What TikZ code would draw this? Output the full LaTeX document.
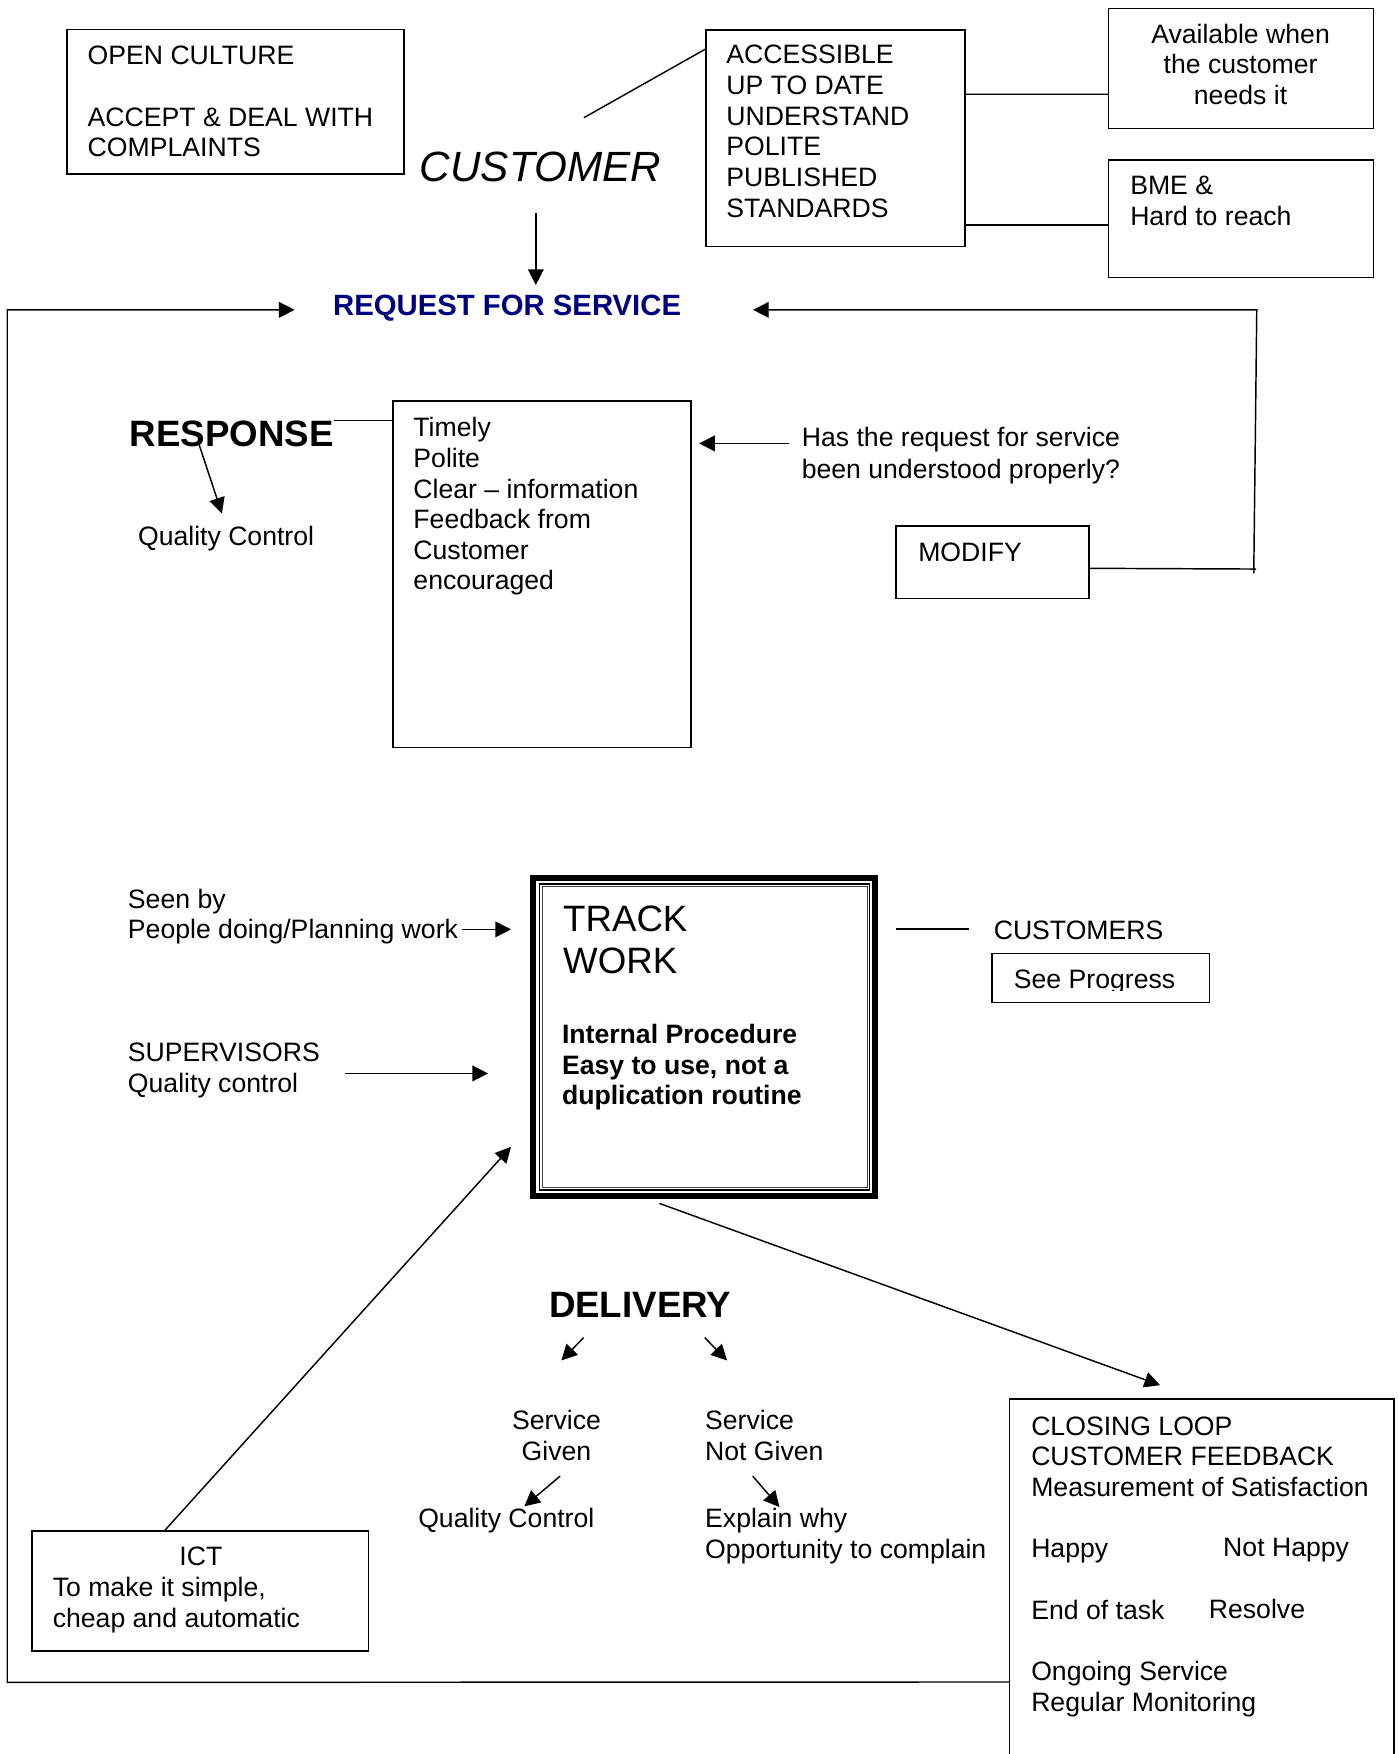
\documentclass[tikz,border=0pt]{standalone}
\usepackage{fontspec}
\setmainfont{Liberation Sans}
\usetikzlibrary{arrows.meta,fit,calc}
\definecolor{reqblue}{RGB}{0,0,128}
\newcommand\ntx{\fontsize{11.9pt}{13.7pt}\selectfont}
\newcommand\ml[1]{\begin{tabular}[t]{@{}l@{}}#1\end{tabular}}
\newcommand\mc[1]{\begin{tabular}[t]{@{}c@{}}#1\end{tabular}}
\begin{document}
\begin{tikzpicture}[x=0.5pt,y=-0.5pt,
  ln/.style={line width=0.65pt},
  arr/.style={line width=0.65pt,-{Triangle[length=7pt,width=7pt]}},
  box/.style={draw,line width=0.65pt,inner sep=0pt,fit={#1}},
  area/.style={inner sep=0pt,fit={#1}},
  txt/.style={inner sep=0pt,anchor=base west,font=\ntx},
  ctxt/.style={inner sep=0pt,anchor=base,font=\ntx}]
\fill[white] (0,0) rectangle (1249,1568);
\useasboundingbox (0,0) rectangle (1249,1568);

% ---------- boxes ----------
\node[box={(60,26.2) (361,155.6)}] (oc) {};
\node[box={(631,26.8) (862.8,220.5)}] (acc) {};
\node[box={(991,7.5) (1227.6,114.7)}] (avail) {};
\node[box={(991,143) (1227.6,248)}] (bme) {};
\node[box={(351.3,358.5) (617.8,668.2)}] (timely) {};
\node[box={(801,470.3) (973.6,535)}] (modify) {};
\node[box={(886.6,852.3) (1081,896.1)}] (seeprog) {};
\node[box={(28.5,1368.5) (329.6,1475.9)}] (ict) {};
\node[area={(903,1251) (1245.7,1580)}] (closebox) {};
\draw[ln] (closebox.south west) -- (closebox.north west) -- (closebox.north east) -- (closebox.south east);

% track work frame
\node[area={(473.8,782.3) (785,1071.5)}] (track) {};
\draw[line width=2.7pt] (476.5,785) rectangle (782.3,1068.8);
\draw[line width=0.6pt] (482.1,790.2) rectangle (777.4,1063.7);
\draw[line width=0.45pt,black!75] (484.7,792.4) rectangle (775.4,1061.7);

% ---------- texts ----------
\node[txt] (octxt) at (78,58) {\ml{OPEN CULTURE\\[13.7pt]ACCEPT \& DEAL WITH\\COMPLAINTS}};
\node[txt,font=\fontsize{18.9pt}{22pt}\selectfont\itshape] (cust) at (375,162.4) {CUSTOMER};
\node[txt] (acctxt) at (649,57.2) {\ml{ACCESSIBLE\\UP TO DATE\\UNDERSTAND\\POLITE\\PUBLISHED\\STANDARDS}};
\node[ctxt] (availtxt) at (1109,38.7) {\mc{Available when\\the customer\\needs it}};
\node[txt] (bmetxt) at (1010,174.3) {\ml{BME \&\\Hard to reach}};
\node[txt,font=\fontsize{13.1pt}{15pt}\selectfont\bfseries,text=reqblue] (req) at (297.4,281.6) {REQUEST FOR SERVICE};

\node[txt,font=\fontsize{16.4pt}{19pt}\selectfont\bfseries] (resp) at (115.8,399.3) {RESPONSE};
\node[txt] (qc1) at (123,488) {Quality Control};
\node[txt] (timelytxt) at (369.2,390.4) {\ml{Timely\\Polite\\Clear -- information\\Feedback from\\Customer\\encouraged}};
\node[ctxt,font=\fontsize{11.9pt}{14.2pt}\selectfont] (has) at (859,399.3) {\mc{Has the request for service\\been understood properly?}};
\node[txt] (modtxt) at (820.5,502.2) {MODIFY};

\node[txt] (seen) at (114,812) {\ml{Seen by\\People doing/Planning work}};
\node[txt] (sup) at (114,949.2) {\ml{SUPERVISORS\\Quality control}};
\node[txt,font=\fontsize{16.4pt}{18.6pt}\selectfont] (tracktxt) at (503,833) {\ml{TRACK\\WORK}};
\node[txt,font=\ntx\bfseries] (internal) at (502,932.8) {\ml{Internal Procedure\\Easy to use, not a\\duplication routine}};
\node[txt] (customers) at (888,839.8) {CUSTOMERS};
\begin{scope}
  \clip (886.6,852.3) rectangle (1081,885.2);
  \node[txt] (seetxt) at (906,883.6) {See Progress};
\end{scope}

\node[txt,font=\fontsize{16.4pt}{19pt}\selectfont\bfseries] (delivery) at (490.4,1177.5) {DELIVERY};
\node[ctxt] (sg) at (497.5,1278) {\mc{Service\\Given}};
\node[txt] (sng) at (630,1278) {\ml{Service\\Not Given}};
\node[txt] (qc2) at (373.5,1365.4) {Quality Control};
\node[txt] (explain) at (630,1365.4) {\ml{Explain why\\Opportunity to complain}};
\node[ctxt] (icttitle) at (179.6,1399.8) {ICT};
\node[txt] (icttxt) at (46.8,1427.3) {\ml{To make it simple,\\cheap and automatic}};
\node[txt] (closetxt) at (921.5,1283) {\ml{CLOSING LOOP\\CUSTOMER FEEDBACK\\Measurement of Satisfaction\\[13.7pt]Happy\\[13.7pt]End of task\\[13.7pt]Ongoing Service\\Regular Monitoring}};
\node[txt] (nothappy) at (1093.1,1391.7) {Not Happy};
\node[txt] (resolve) at (1080.3,1446.9) {Resolve};

% ---------- free ends ----------
\coordinate (custA) at (522,105.2);
\coordinate (custB) at (479,190.7);
\coordinate (reqTop) at (479,254.8);
\coordinate (reqL) at (263.4,277);
\coordinate (reqR) at (673.2,277);
\coordinate (loopTR) at (1123.5,277);
\coordinate (loopBR) at (1120.8,512.6);
\coordinate (loopTL) at (6.5,277);
\coordinate (loopBL) at (6.5,1504);
\coordinate (respA) at (177.6,396.4);
\coordinate (qc1Tip) at (198.4,459);
\coordinate (hasA) at (705.6,396.4);
\coordinate (hasTip) at (625,396.4);
\coordinate (seenA) at (413,830.8);
\coordinate (seenTip) at (456.8,830.8);
\coordinate (supA) at (308,959.6);
\coordinate (supTip) at (436.3,959.6);
\coordinate (ictTip) at (456.8,1025.2);
\coordinate (custsA) at (800.8,830.6);
\coordinate (custsB) at (866.4,830.6);
\coordinate (trackA) at (589.5,1075.8);
\coordinate (closeTip) at (1037.1,1238.3);
\coordinate (delLA) at (521.7,1195.8);
\coordinate (delLT) at (501.8,1216.2);
\coordinate (delRA) at (630,1195.8);
\coordinate (delRT) at (650,1216.2);
\coordinate (sgA) at (500.7,1319.6);
\coordinate (sgT) at (468.7,1346.6);
\coordinate (sngA) at (672.9,1319.6);
\coordinate (sngT) at (696.8,1347.2);

% ---------- connectors ----------
\draw[ln] (custA) -- ($(acc.north west)+(0,17.9)$);
\draw[ln] ($(acc.north east)+(0,58.1)$) -- ($(avail.north west)+(0,77.4)$);
\draw[ln] ($(acc.north east)+(0,175)$) -- ($(bme.north west)+(0,58.8)$);
\draw[arr] (custB) -- (reqTop);
\draw[arr] ($(closebox.north west)+(0,253)$) -- (loopBL) -- (loopTL) -- (reqL);
\draw[ln] ($(modify.north east)+(0,38.4)$) -- (1123,508.7);
\draw[arr] (loopBR) -- (loopTR) -- (reqR);
\draw[ln] (resp.north east) -- (resp.north east -| timely.west);
\draw[arr] (respA) -- (qc1Tip);
\draw[arr] (hasA) -- (hasTip);
\draw[arr] (seenA) -- (seenTip);
\draw[arr] (supA) -- (supTip);
\draw[arr] ($(ict.north west)+(119.7,0)$) -- (ictTip);
\draw[ln] (custsA) -- (custsB);
\draw[arr] (trackA) -- (closeTip);
\draw[arr] (delLA) -- (delLT);
\draw[arr] (delRA) -- (delRT);
\draw[arr] (sgA) -- (sgT);
\draw[arr] (sngA) -- (sngT);
\end{tikzpicture}
\end{document}
